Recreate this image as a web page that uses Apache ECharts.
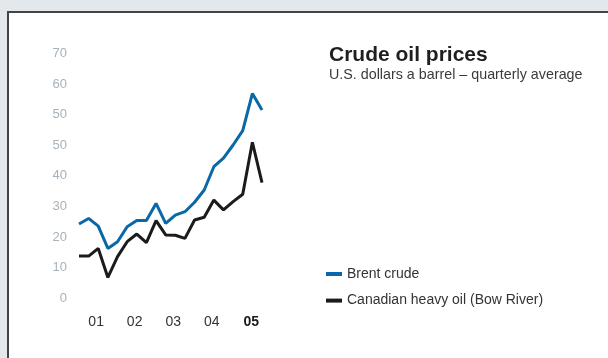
<!DOCTYPE html>
<html>
<head>
<meta charset="utf-8">
<script src="https://cdn.jsdelivr.net/npm/echarts@6/dist/echarts.min.js"></script>
<style>
  html, body { margin: 0; padding: 0; background: #e2e8eb; }
  #panel { position: absolute; left: 7px; top: 11px; width: 620px; height: 370px;
           background: #ffffff; border-left: 2px solid #444; border-top: 2px solid #444; }
  #chart { position: absolute; left: 0; top: 0; width: 608px; height: 358px; }
</style>
</head>
<body>
<div id="panel"></div>
<div id="chart"></div>
<script>
// Quarterly averages, 2001 Q1 – 2005 Q4, U.S. dollars a barrel
const quarters = ['01Q1','01Q2','01Q3','01Q4','02Q1','02Q2','02Q3','02Q4',
                  '03Q1','03Q2','03Q3','03Q4','04Q1','04Q2','04Q3','04Q4',
                  '05Q1','05Q2','05Q3','05Q4'];
const brentCrude = [24.3, 26.1, 23.6, 16.3, 18.5, 23.4, 25.4, 25.4, 31.0, 24.5,
                    27.2, 28.3, 31.4, 35.4, 43.0, 45.8, 50.1, 54.8, 66.9, 61.5];
const bowRiver   = [13.8, 13.8, 16.3, 6.8, 13.6, 18.5, 21.0, 18.2, 25.4, 20.7,
                    20.6, 19.6, 25.6, 26.5, 32.1, 28.9, 31.6, 34.0, 51.0, 37.8];
// Year labels, placed mid-year
const yearLabels = ['01', '02', '03', '04', '05'];
// Value axis tick labels, bottom to top
const yTickLabels = ['0', '10', '20', '30', '40', '50', '50', '60', '70'];

const FONT = '"Liberation Sans", Arial, sans-serif';
const chart = echarts.init(document.getElementById('chart'), null, { renderer: 'canvas' });

chart.setOption({
  backgroundColor: 'transparent',
  animation: false,
  title: {
    text: 'Crude oil prices',
    subtext: 'U.S. dollars a barrel – quarterly average',
    left: 324,
    top: 40,
    itemGap: 2,
    textStyle: { fontFamily: FONT, fontSize: 21, fontWeight: 'bold', color: '#1f1f1f' },
    subtextStyle: { fontFamily: FONT, fontSize: 14.3, color: '#3a3a3a' }
  },
  legend: {
    orient: 'vertical',
    left: 321,
    top: 262,
    itemWidth: 16,
    itemHeight: 4,
    itemGap: 12.6,
    icon: 'rect',
    textStyle: { fontFamily: FONT, fontSize: 14, color: '#333333' },
    data: ['Brent crude', 'Canadian heavy oil (Bow River)']
  },
  grid: { left: 79, right: 346, top: 53.5, bottom: 59.7, containLabel: false },
  xAxis: {
    type: 'category',
    data: quarters,
    boundaryGap: false,
    axisLine: { show: false },
    axisTick: { show: false },
    splitLine: { show: false },
    axisLabel: {
      interval: 0,
      margin: 17,
      formatter: function (val, idx) {
        if (idx % 4 !== 1) return '';
        const y = yearLabels[(idx - 1) / 4];
        return y === '05' ? '{b|' + y + '}' : '{n|' + y + '}';
      },
      rich: {
        n: { fontFamily: FONT, fontSize: 14, color: '#333333', padding: [0, 0, 0, 15] },
        b: { fontFamily: FONT, fontSize: 14, color: '#1a1a1a', fontWeight: 'bold', padding: [0, 0, 0, 17] }
      }
    }
  },
  yAxis: {
    type: 'value',
    min: 0,
    max: 80,
    interval: 10,
    axisLine: { show: false },
    axisTick: { show: false },
    splitLine: { show: false },
    axisLabel: {
      margin: 12,
      fontFamily: FONT,
      fontSize: 13,
      color: '#a7b1b9',
      formatter: function (v) { return yTickLabels[Math.round(v / 10)]; }
    }
  },
  series: [
    {
      name: 'Brent crude',
      type: 'line',
      data: brentCrude,
      symbol: 'none',
      lineStyle: { width: 3, color: '#0a68a8' },
      itemStyle: { color: '#0a68a8' }
    },
    {
      name: 'Canadian heavy oil (Bow River)',
      type: 'line',
      data: bowRiver,
      symbol: 'none',
      lineStyle: { width: 3, color: '#1c1a1a' },
      itemStyle: { color: '#1c1a1a' }
    }
  ]
});
</script>
</body>
</html>
